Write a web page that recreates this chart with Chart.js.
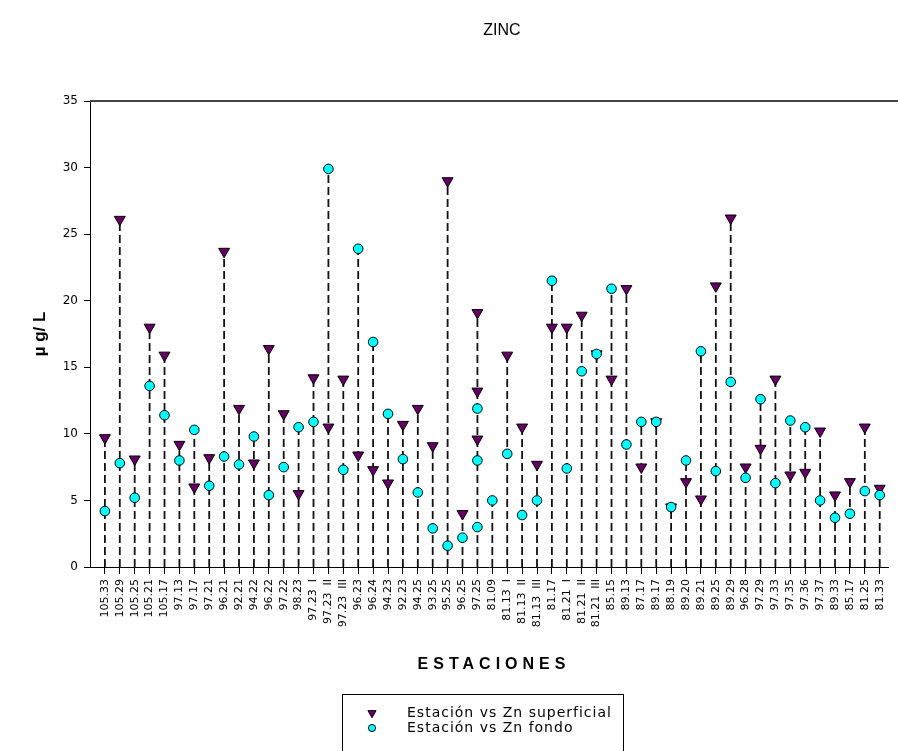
<!DOCTYPE html>
<html>
<head>
<meta charset="utf-8">
<script src="https://cdn.jsdelivr.net/npm/chart.js@4.4.1/dist/chart.umd.min.js"></script>
<style>
  html, body { margin: 0; padding: 0; background: #fff; }
  #wrap { width: 898px; height: 751px; }
</style>
</head>
<body>
<div id="wrap"><canvas id="zinc" width="898" height="751"></canvas></div>
<script>
// sampling stations, in the order they run along the axis
const stations = [
  '105.33', '105.29', '105.25', '105.21', '105.17', '97.13', '97.17', '97.21', '96.21', '92.21',
  '94.22', '96.22', '97.22', '98.23', '97.23  I', '97.23  II', '97.23  III', '96.23', '96.24', '94.23',
  '92.23', '94.25', '93.25', '95.25', '96.25', '97.25', '81.09', '81.13  I', '81.13  II', '81.13  III',
  '81.17', '81.21  I', '81.21  II', '81.21  III', '85.15', '89.13', '87.17', '89.17', '88.19', '89.20',
  '89.21', '89.25', '89.29', '96.28', '97.29', '97.33', '97.35', '97.36', '97.37', '89.33',
  '85.17', '81.25', '81.33'
];

// Zn in surface water (µg/L), one reading per station
const superficial = [
  9.7, 26.1, 8.1, 18.0, 15.9, 9.2, 6.0, 8.2, 23.7, 11.9,
  7.8, 16.4, 11.5, 5.5, 14.2, 10.5, 14.1, 8.4, 7.3, 6.3,
  10.7, 11.9, 9.1, 29.0, 4.0, 19.1, null, 15.9, 10.5, 7.7,
  18.0, 18.0, 18.9, 16.0, 14.1, 20.9, 7.5, 10.9, 4.5, 6.4,
  5.1, 21.1, 26.2, 7.5, 8.9, 14.1, 6.9, 7.1, 10.2, 5.4,
  6.4, 10.5, 5.9
];

// Zn near the bottom (µg/L)
const fondo = [
  4.2, 7.8, 5.2, 13.6, 11.4, 8.0, 10.3, 6.1, 8.3, 7.7,
  9.8, 5.4, 7.5, 10.5, 10.9, 29.9, 7.3, 23.9, 16.9, 11.5,
  8.1, 5.6, 2.9, 1.6, 2.2, 11.9, 5.0, 8.5, 3.9, 5.0,
  21.5, 7.4, 14.7, 16.0, 20.9, 9.2, 10.9, 10.9, 4.5, 8.0,
  16.2, 7.2, 13.9, 6.7, 12.6, 6.3, 11.0, 10.5, 5.0, 3.7,
  4.0, 5.7, 5.4
];

// repeated samples taken at the same station
const superficialExtra = [['97.25', 13.2], ['97.25', 9.6]];
const fondoExtra = [['97.25', 8.0], ['97.25', 3.0]];

const yTicks = [0, 5, 10, 15, 20, 25, 30, 35];

const colours = { superficial: '#660066', fondo: '#00ffff', stem: '#111111', edge: '#000000' };
const fontFamily = "'DejaVu Sans', sans-serif";
const arial = "'Liberation Sans', Arial, sans-serif";

function toPoints(values, extra) {
  const pts = [];
  values.forEach((v, i) => { if (v !== null) pts.push({ x: i + 1, y: v }); });
  extra.forEach(([name, v]) => pts.push({ x: stations.indexOf(name) + 1, y: v }));
  return pts;
}

const superficialPts = toPoints(superficial, superficialExtra);
const fondoPts = toPoints(fondo, fondoExtra);

// dashed drop line from the axis up to the highest reading at each station
const stemPts = [];
stations.forEach((s, i) => {
  const ys = superficialPts.concat(fondoPts).filter(p => p.x === i + 1).map(p => p.y);
  if (!ys.length) return;
  stemPts.push({ x: i + 1, y: 0 }, { x: i + 1, y: Math.max(...ys) }, { x: i + 1, y: null });
});

// title, x axis caption, plot frame and the boxed legend
const decorations = {
  id: 'decorations',
  afterDraw(chart) {
    const { ctx, chartArea } = chart;
    ctx.save();
    ctx.strokeStyle = '#444';
    ctx.lineWidth = 2;
    ctx.beginPath();
    ctx.moveTo(chartArea.left, chartArea.top);
    ctx.lineTo(chart.width, chartArea.top);
    ctx.stroke();

    ctx.fillStyle = '#000';
    ctx.textAlign = 'center';
    ctx.textBaseline = 'middle';
    ctx.font = '16px ' + arial;
    ctx.fillText('ZINC', 502, 31);

    ctx.font = 'bold 16px ' + arial;
    ctx.letterSpacing = '5px';
    ctx.fillText('ESTACIONES', 494, 665);

    // legend
    ctx.letterSpacing = '1px';
    ctx.lineWidth = 1;
    ctx.strokeStyle = '#000';
    ctx.strokeRect(342.5, 694.5, 281, 80);
    ctx.font = '14px ' + fontFamily;
    ctx.textAlign = 'left';
    chart.data.datasets.filter(d => d.label).forEach((d, k) => {
      const y = 713 + k * 15;
      ctx.fillStyle = d.backgroundColor;
      ctx.strokeStyle = d.borderColor;
      Chart.helpers.drawPoint(ctx, {
        pointStyle: d.pointStyle, rotation: d.pointRotation || 0,
        radius: d.pointRadius * 0.75, borderWidth: 1
      }, 372, y);
      ctx.fillStyle = '#000';
      ctx.fillText(d.label, 407, y);
    });
    ctx.restore();
  }
};

new Chart(document.getElementById('zinc'), {
  type: 'scatter',
  data: {
    datasets: [
      {
        label: 'Estación vs Zn superficial',
        data: superficialPts,
        pointStyle: 'triangle',
        pointRotation: 180,
        pointRadius: 6.3,
        backgroundColor: colours.superficial,
        borderColor: colours.edge,
        borderWidth: 1,
        order: 2
      },
      {
        label: 'Estación vs Zn fondo',
        data: fondoPts,
        pointStyle: 'circle',
        pointRadius: 4.8,
        backgroundColor: colours.fondo,
        borderColor: colours.edge,
        borderWidth: 1,
        order: 1
      },
      {
        type: 'line',
        data: stemPts,
        borderColor: colours.stem,
        borderWidth: 1.8,
        borderDash: [8, 4],
        pointRadius: 0,
        spanGaps: false,
        order: 3
      }
    ]
  },
  options: {
    responsive: false,
    animation: false,
    devicePixelRatio: 1,
    events: [],
    layout: { padding: { top: 101, right: 1, left: 0, bottom: 0 } },
    plugins: { legend: { display: false }, tooltip: { enabled: false } },
    scales: {
      x: {
        type: 'linear',
        min: 0,
        max: 53.6,
        afterBuildTicks: axis => { axis.ticks = stations.map((_, i) => ({ value: i + 1 })); },
        afterFit: axis => { axis.height = 184; },
        grid: { drawOnChartArea: false, tickLength: 7, color: '#000' },
        border: { color: '#000', width: 1 },
        ticks: {
          autoSkip: false,
          minRotation: 90,
          maxRotation: 90,
          padding: 5,
          color: '#000',
          font: { family: fontFamily, size: 11 },
          callback: v => stations[v - 1]
        }
      },
      y: {
        min: 0,
        max: 35,
        afterBuildTicks: axis => { axis.ticks = yTicks.map(v => ({ value: v })); },
        afterFit: axis => { axis.width = 90; },
        grid: { drawOnChartArea: false, tickLength: 6, color: '#000' },
        border: { color: '#000', width: 1 },
        ticks: { padding: 6, color: '#000', font: { family: fontFamily, size: 12 } },
        title: {
          display: true,
          text: 'µ g/ L',
          color: '#000',
          font: { family: arial, size: 17, weight: 'bold' },
          padding: { top: 30, bottom: 0 }
        }
      }
    }
  },
  plugins: [decorations]
});
</script>
</body>
</html>
